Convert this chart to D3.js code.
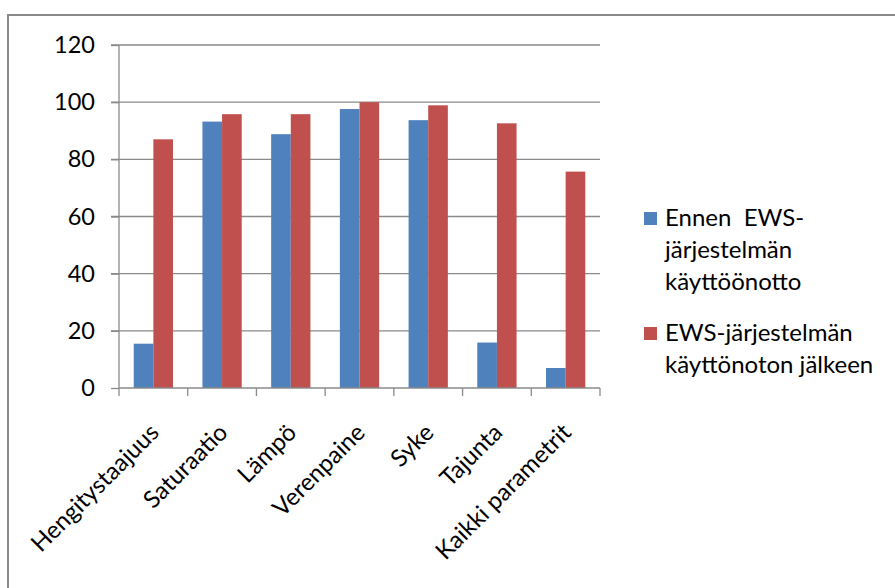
<!DOCTYPE html>
<html>
<head>
<meta charset="utf-8">
<script src="https://cdn.jsdelivr.net/npm/d3@7"></script>
<style>
  html, body { margin: 0; padding: 0; background: #fff; }
  text { font-family: Lato, "Open Sans", sans-serif; fill: #000; }
</style>
</head>
<body>
<svg id="chart" width="895" height="588"></svg>
<script>
const categories = ["Hengitystaajuus", "Saturaatio", "Lämpö", "Verenpaine", "Syke", "Tajunta", "Kaikki parametrit"];
const seriesNames = [["Ennen  EWS-", "järjestelmän", "käyttöönotto"], ["EWS-järjestelmän", "käyttönoton jälkeen"]];
const before = [15.5, 93.2, 88.8, 97.6, 93.7, 15.9, 7.0];
const after = [87.0, 95.8, 95.8, 100.0, 98.9, 92.6, 75.7];
const yTicks = [0, 20, 40, 60, 80, 100, 120];
const colors = ["#4F81BD", "#C0504D"];

(function () {
const svg = d3.select("#chart");
svg.append("rect").attr("width", 895).attr("height", 588).attr("fill", "#fff");
svg.append("rect").attr("x", 8).attr("y", 15).attr("width", 1000).attr("height", 700)
  .attr("fill", "none").attr("stroke", "#8a8a8a").attr("stroke-width", 2);

const pl = 119, pr = 600, pt = 45, pb = 388;
const x = d3.scaleBand().domain(categories).range([pl, pr]).paddingInner(0).paddingOuter(0);
const y = d3.scaleLinear().domain([0, 120]).range([pb, pt]);
const xs = d3.scaleBand().domain([0, 1]).range([0, x.bandwidth()]).paddingOuter(0.75).paddingInner(0);

svg.append("g").selectAll("line").data(yTicks.filter(d => d > 0)).join("line")
  .attr("x1", pl - 8).attr("x2", pr).attr("y1", d => y(d)).attr("y2", d => y(d))
  .attr("stroke", "#8a8a8a").attr("stroke-width", 1.3);

const yAxis = svg.append("g").attr("transform", `translate(${pl},0)`)
  .call(d3.axisLeft(y).tickValues(yTicks).tickSize(8).tickPadding(16));
yAxis.select(".domain").attr("stroke", "#8a8a8a").attr("stroke-width", 1.3).attr("d", `M0,${pt}V${pb}`);
yAxis.selectAll(".tick line").attr("stroke", "#8a8a8a").attr("stroke-width", 1.3);
yAxis.selectAll(".tick text").attr("font-size", 23.5).attr("font-family", "Lato").attr("fill", "#000");

const data = categories.map((c, i) => ({ c, vals: [before[i], after[i]] }));
const groups = svg.append("g").selectAll("g").data(data).join("g")
  .attr("transform", d => `translate(${x(d.c)},0)`);
groups.selectAll("rect").data(d => d.vals.map((v, k) => ({ v, k }))).join("rect")
  .attr("x", d => xs(d.k)).attr("width", xs.bandwidth())
  .attr("y", d => y(d.v)).attr("height", d => y(0) - y(d.v))
  .attr("fill", d => colors[d.k]);

const xAxis = svg.append("g").attr("transform", `translate(0,${pb})`);
xAxis.append("line").attr("x1", pl).attr("x2", pr).attr("stroke", "#8a8a8a").attr("stroke-width", 1.3);
const xTickPos = categories.map(c => x(c)).concat([pr]);
xAxis.selectAll("line.t").data(xTickPos).join("line").attr("class", "t")
  .attr("x1", d => d).attr("x2", d => d).attr("y1", 0).attr("y2", 8)
  .attr("stroke", "#8a8a8a").attr("stroke-width", 1.3);
xAxis.selectAll("text").data(categories).join("text")
  .attr("transform", d => `translate(${x(d) + x.bandwidth() / 2 + 7},${46}) rotate(-45)`)
  .attr("text-anchor", "end").attr("font-size", 24).text(d => d);

const legendY = [212, 327];
const leg = svg.append("g");
seriesNames.forEach((lines, k) => {
  leg.append("rect").attr("x", 644).attr("y", legendY[k]).attr("width", 13).attr("height", 13).attr("fill", colors[k]);
  const t = leg.append("text").attr("x", 665).attr("y", legendY[k] + 14).attr("font-size", 24).style("white-space", "pre");
  lines.forEach((ln, j) => t.append("tspan").attr("x", 665).attr("dy", j === 0 ? 0 : 32).text(ln));
});
})();
</script>
</body>
</html>
